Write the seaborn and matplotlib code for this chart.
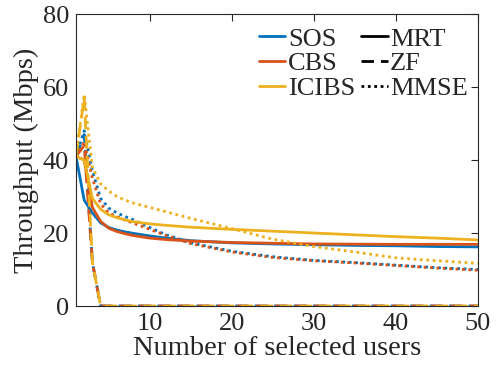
import numpy as np
import pandas as pd
import matplotlib
matplotlib.use("Agg")
import matplotlib.pyplot as plt
import seaborn as sns
from matplotlib.lines import Line2D

# ---- data ----
x_users = [1, 2, 3, 4, 5, 6, 7, 8, 10, 12, 15, 20, 25, 30, 35, 40, 45, 50]

sos_mrt   = [41, 29.0, 25.5, 22.8, 21.5, 20.8, 20.3, 19.9, 19.2, 18.6, 17.9, 17.3, 17.0, 16.8, 16.6, 16.5, 16.3, 16.2]
cbs_mrt   = [41, 40.0, 27.0, 23.2, 21.3, 20.4, 19.8, 19.3, 18.6, 18.2, 17.8, 17.4, 17.2, 17.0, 16.95, 16.9, 16.9, 16.9]
icibs_mrt = [41, 40.0, 29.5, 26.5, 25.0, 24.2, 23.6, 23.1, 22.5, 22.1, 21.6, 21.0, 20.5, 20.0, 19.5, 19.0, 18.6, 18.1]

sos_zf    = [41, 47.0, 12.0, 0, 0, 0, 0, 0, 0, 0, 0, 0, 0, 0, 0, 0, 0, 0]
cbs_zf    = [41, 44.0, 12.0, 0, 0, 0, 0, 0, 0, 0, 0, 0, 0, 0, 0, 0, 0, 0]
icibs_zf  = [41, 57.0, 12.0, 0, 0, 0, 0, 0, 0, 0, 0, 0, 0, 0, 0, 0, 0, 0]

sos_mmse   = [41, 48.0, 37.0, 29.5, 26.8, 25.5, 24.5, 23.6, 21.5, 19.5, 17.3, 15.0, 13.5, 12.5, 11.9, 11.2, 10.5, 10.0]
cbs_mmse   = [41, 45.0, 35.0, 28.0, 25.5, 24.5, 23.5, 22.7, 21.0, 19.3, 17.1, 14.8, 13.3, 12.4, 11.8, 11.1, 10.4, 9.8]
icibs_mmse = [41, 58.0, 38.0, 33.5, 31.5, 30.0, 29.0, 28.2, 27.0, 25.8, 24.0, 21.2, 18.3, 16.3, 14.8, 13.2, 12.4, 11.7]

methods = ["SOS", "CBS", "ICIBS"]
precoders = ["MRT", "ZF", "MMSE"]
series = {
    ("SOS", "MRT"): sos_mrt, ("CBS", "MRT"): cbs_mrt, ("ICIBS", "MRT"): icibs_mrt,
    ("SOS", "ZF"): sos_zf, ("CBS", "ZF"): cbs_zf, ("ICIBS", "ZF"): icibs_zf,
    ("SOS", "MMSE"): sos_mmse, ("CBS", "MMSE"): cbs_mmse, ("ICIBS", "MMSE"): icibs_mmse,
}

rows = []
for (m, p), vals in series.items():
    for xv, yv in zip(x_users, vals):
        rows.append({"users": xv, "thr": yv, "method": m, "precoder": p})
df = pd.DataFrame(rows)

colors = {"SOS": "#0072BD", "CBS": "#D95319", "ICIBS": "#EDB120"}
dashes = {"MRT": "", "ZF": (4.5, 2.5), "MMSE": (1, 1.3)}

sns.set_theme(style="white")
plt.rcParams["font.family"] = ["Liberation Serif", "DejaVu Serif"]

fig = plt.figure(figsize=(4.98, 3.73), dpi=100)
ax = fig.add_axes([0.1526, 0.1796, 0.8072, 0.7828])

sns.lineplot(data=df, x="users", y="thr", hue="method", style="precoder",
             hue_order=methods, style_order=precoders, palette=colors,
             dashes=dashes, linewidth=2, legend=False, ax=ax, sort=False)

ax.set_xlim(1, 50)
ax.set_ylim(0, 80)
ax.set_xticks([10, 20, 30, 40, 50])
ax.set_yticks([0, 20, 40, 60, 80])
ax.tick_params(direction="in", length=5, width=0.8, top=True, right=True,
               labelsize=19, colors="#262626", pad=5)
for s in ax.spines.values():
    s.set_visible(True)
    s.set_color("#262626")
    s.set_linewidth(0.8)
ax.set_xlabel("Number of selected users", fontsize=20.5, color="#262626", labelpad=1)
ax.set_ylabel("Throughput (Mbps)", fontsize=20.5, color="#262626", labelpad=3)

handles = [
    Line2D([], [], color=colors["SOS"], lw=2),
    Line2D([], [], color=colors["CBS"], lw=2),
    Line2D([], [], color=colors["ICIBS"], lw=2),
    Line2D([], [], color="black", lw=2),
    Line2D([], [], color="black", lw=2, dashes=(4.5, 2.5)),
    Line2D([], [], color="black", lw=2, dashes=(1, 1.3)),
]
labels = ["SOS", "CBS", "ICIBS", "MRT", "ZF", "MMSE"]
ax.legend(handles, labels, ncol=2, loc="upper right", frameon=False,
          fontsize=19, handlelength=1.0, handletextpad=0.1, columnspacing=0.22,
          labelspacing=0.05, borderaxespad=0, borderpad=0,
          bbox_to_anchor=(0.975, 0.955))

fig.savefig("out.png", dpi=100)
